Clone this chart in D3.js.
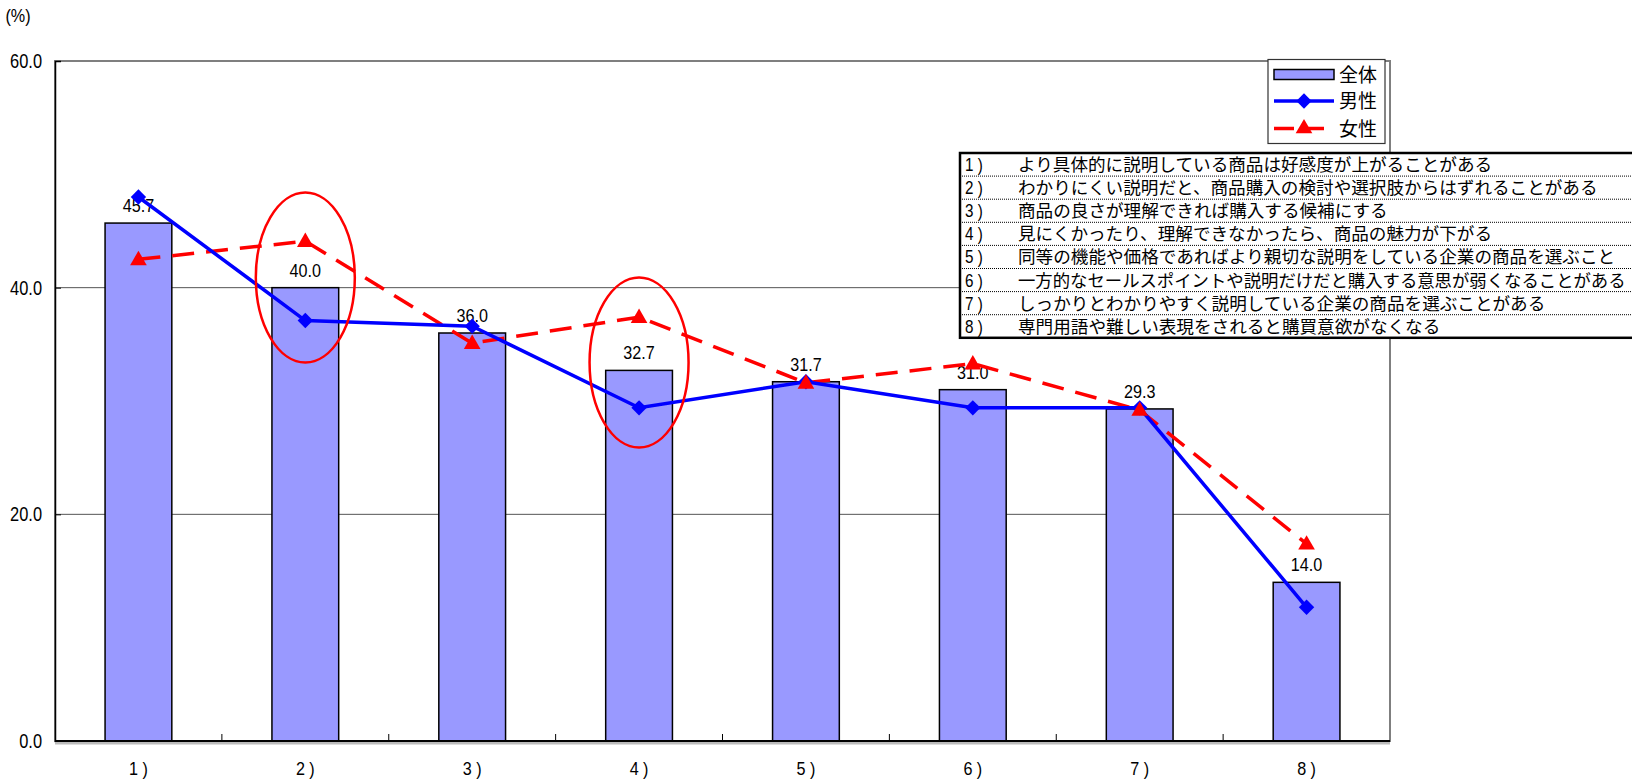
<!DOCTYPE html>
<html lang="ja">
<head>
<meta charset="utf-8">
<script src="https://cdn.jsdelivr.net/npm/d3@7"></script>
<style>
  html, body { margin: 0; padding: 0; background: #fff; }
  svg { display: block; }
  .num { font-family: "Liberation Sans", Arial, sans-serif; }
  .jp { font-family: "Noto Sans CJK JP", "Noto Sans CJK SC", sans-serif; }
</style>
</head>
<body>
<svg id="chart" width="1632" height="779"></svg>
<script>
// Categories (x axis) and their descriptions
const categories = ["1)", "2)", "3)", "4)", "5)", "6)", "7)", "8)"];
const descriptions = [
  "より具体的に説明している商品は好感度が上がることがある",
  "わかりにくい説明だと、商品購入の検討や選択肢からはずれることがある",
  "商品の良さが理解できれば購入する候補にする",
  "見にくかったり、理解できなかったら、商品の魅力が下がる",
  "同等の機能や価格であればより親切な説明をしている企業の商品を選ぶこと",
  "一方的なセールスポイントや説明だけだと購入する意思が弱くなることがある",
  "しっかりとわかりやすく説明している企業の商品を選ぶことがある",
  "専門用語や難しい表現をされると購買意欲がなくなる"
];

// Series values (%)
const totalValues  = [45.7, 40.0, 36.0, 32.7, 31.7, 31.0, 29.3, 14.0];
const maleValues   = [48.0, 37.1, 36.6, 29.4, 31.7, 29.4, 29.4, 11.8];
const femaleValues = [42.5, 44.1, 35.1, 37.4, 31.6, 33.3, 29.2, 17.4];

// Series names
const seriesNames = ["全体", "男性", "女性"];

// Y axis ticks
const yTicks = [0, 20, 40, 60];

// Highlighted categories (circled)
const highlighted = ["2)", "4)"];

const svg = d3.select("#chart");

const plot = { left: 55, right: 1390, top: 61, bottom: 741 };

const x = d3.scaleBand()
  .domain(categories)
  .range([plot.left, plot.right])
  .paddingInner(0.6)
  .paddingOuter(0.3);

const y = d3.scaleLinear()
  .domain([0, 60])
  .range([plot.bottom, plot.top]);

const cx = d => x(d) + x.bandwidth() / 2;

// Squeeze text horizontally to get a condensed face
function condense(sel, factor) {
  sel.each(function () {
    const w = this.getComputedTextLength();
    d3.select(this)
      .attr("textLength", w * factor)
      .attr("lengthAdjust", "spacingAndGlyphs");
  });
}

// Gridlines
svg.append("g")
  .selectAll("line")
  .data(yTicks.filter(t => t > 0 && t < 60))
  .join("line")
  .attr("x1", plot.left).attr("x2", plot.right)
  .attr("y1", d => y(d)).attr("y2", d => y(d))
  .attr("stroke", "#555").attr("stroke-width", 1);

// Plot frame (top/right in grey)
svg.append("rect")
  .attr("x", plot.left).attr("y", plot.top)
  .attr("width", plot.right - plot.left).attr("height", plot.bottom - plot.top)
  .attr("fill", "none").attr("stroke", "#7f7f7f").attr("stroke-width", 2);

// Y axis
const yAxis = d3.axisLeft(y)
  .tickValues(yTicks)
  .tickFormat(d3.format(".1f"))
  .tickSize(-6)
  .tickPadding(13);

const yAxisG = svg.append("g")
  .attr("transform", `translate(${plot.left},0)`)
  .call(yAxis);
yAxisG.select(".domain").attr("stroke", "#000").attr("stroke-width", 1.5);
yAxisG.selectAll(".tick line").attr("stroke", "#000");
yAxisG.selectAll(".tick text")
  .attr("class", "num")
  .attr("font-size", 20)
  .attr("fill", "#000")
  .call(condense, 0.82);

// Unit label
svg.append("text")
  .attr("class", "num")
  .attr("x", 18).attr("y", 22)
  .attr("text-anchor", "middle")
  .attr("font-size", 19)
  .text("(%)")
  .call(condense, 0.85);

// Bars
svg.append("g")
  .selectAll("rect")
  .data(totalValues)
  .join("rect")
  .attr("x", (d, i) => x(categories[i]))
  .attr("y", d => y(d))
  .attr("width", x.bandwidth())
  .attr("height", d => y(0) - y(d))
  .attr("fill", "#9999ff")
  .attr("stroke", "#000")
  .attr("stroke-width", 1.5);

// X axis
const xAxisG = svg.append("g")
  .attr("transform", `translate(0,${plot.bottom})`);
xAxisG.append("line")
  .attr("x1", plot.left).attr("x2", plot.right)
  .attr("y1", 2).attr("y2", 2)
  .attr("stroke", "#bbb").attr("stroke-width", 3);
xAxisG.append("line")
  .attr("x1", plot.left).attr("x2", plot.right)
  .attr("stroke", "#000").attr("stroke-width", 2);
// tick marks on category boundaries
xAxisG.selectAll("line.sep")
  .data(categories.slice(1))
  .join("line")
  .attr("class", "sep")
  .attr("x1", d => x(d) - x.step() * x.paddingInner() / 2)
  .attr("x2", d => x(d) - x.step() * x.paddingInner() / 2)
  .attr("y1", 0).attr("y2", -7)
  .attr("stroke", "#000").attr("stroke-width", 1);
xAxisG.selectAll("text")
  .data(categories)
  .join("text")
  .attr("class", "num")
  .attr("x", d => cx(d))
  .attr("y", 34)
  .attr("text-anchor", "middle")
  .attr("font-size", 19)
  .text(d => d.replace(")", " )"))
  .call(condense, 0.85);

// Value labels above bars
svg.append("g")
  .selectAll("text")
  .data(totalValues)
  .join("text")
  .attr("class", "num")
  .attr("x", (d, i) => cx(categories[i]))
  .attr("y", d => y(d) - 11)
  .attr("text-anchor", "middle")
  .attr("font-size", 19)
  .attr("fill", "#000")
  .text(d => d.toFixed(1))
  .call(condense, 0.85);

// Lines
const line = d3.line()
  .x((d, i) => cx(categories[i]))
  .y(d => y(d));

svg.append("path")
  .datum(femaleValues)
  .attr("d", line)
  .attr("fill", "none")
  .attr("stroke", "#ff0000")
  .attr("stroke-width", 3.5)
  .attr("stroke-dasharray", "22,12");

svg.append("path")
  .datum(maleValues)
  .attr("d", line)
  .attr("fill", "none")
  .attr("stroke", "#0000ff")
  .attr("stroke-width", 3.5);

const diamond = d3.symbol().type(d3.symbolDiamond2).size(150);
const triangle = d3.symbol().type(d3.symbolTriangle).size(120);

svg.append("g")
  .selectAll("path")
  .data(maleValues)
  .join("path")
  .attr("d", diamond)
  .attr("transform", (d, i) => `translate(${cx(categories[i])},${y(d)})`)
  .attr("fill", "#0000ff");

svg.append("g")
  .selectAll("path")
  .data(femaleValues)
  .join("path")
  .attr("d", triangle)
  .attr("transform", (d, i) => `translate(${cx(categories[i])},${y(d) + 1})`)
  .attr("fill", "#ff0000");

// Highlight ellipses around selected categories
const ellipseCentre = { "2)": 40.9, "4)": 33.4 };
svg.append("g")
  .selectAll("ellipse")
  .data(highlighted)
  .join("ellipse")
  .attr("cx", d => cx(d))
  .attr("cy", d => y(ellipseCentre[d]))
  .attr("rx", 49.5)
  .attr("ry", 85)
  .attr("fill", "none")
  .attr("stroke", "#ff0000")
  .attr("stroke-width", 2.5);

// Description table
const notes = svg.append("g");
const noteBox = { x: 960, y: 153, w: 700, rowH: 23.1 };
notes.append("rect")
  .attr("x", noteBox.x).attr("y", noteBox.y)
  .attr("width", noteBox.w).attr("height", noteBox.rowH * descriptions.length)
  .attr("fill", "#fff").attr("stroke", "#000").attr("stroke-width", 2.5);
notes.selectAll("line.row")
  .data(descriptions.slice(1))
  .join("line")
  .attr("class", "row")
  .attr("x1", noteBox.x).attr("x2", noteBox.x + noteBox.w)
  .attr("y1", (d, i) => noteBox.y + noteBox.rowH * (i + 1))
  .attr("y2", (d, i) => noteBox.y + noteBox.rowH * (i + 1))
  .attr("stroke", "#000").attr("stroke-width", 1)
  .attr("stroke-dasharray", "1,1");
notes.selectAll("text.no")
  .data(categories)
  .join("text")
  .attr("class", "num no")
  .attr("x", noteBox.x + 5)
  .attr("y", (d, i) => noteBox.y + noteBox.rowH * i + 18)
  .attr("font-size", 19)
  .text(d => d.replace(")", " )"))
  .call(condense, 0.8);
const descX = 1018;
const descMaxW = 1626 - descX;
notes.selectAll("text.desc")
  .data(descriptions)
  .join("text")
  .attr("class", "jp desc")
  .attr("x", descX)
  .attr("y", (d, i) => noteBox.y + noteBox.rowH * i + 18)
  .attr("font-size", 17.6)
  .text(d => d)
  .each(function () {
    // shrink long rows so they stay inside the page width
    const w = this.getComputedTextLength();
    if (w > descMaxW) {
      d3.select(this).attr("font-size", 17.6 * descMaxW / w);
    }
  });

// Legend
const legend = svg.append("g");
legend.append("rect")
  .attr("x", 1268).attr("y", 59.5)
  .attr("width", 117).attr("height", 84)
  .attr("fill", "#fff").attr("stroke", "#333").attr("stroke-width", 1.2);
const legY = [74.5, 101, 128.5];
legend.append("rect")
  .attr("x", 1274).attr("y", legY[0] - 5)
  .attr("width", 60).attr("height", 10)
  .attr("fill", "#9999ff").attr("stroke", "#000").attr("stroke-width", 1.5);
legend.append("line")
  .attr("x1", 1274).attr("x2", 1334).attr("y1", legY[1]).attr("y2", legY[1])
  .attr("stroke", "#0000ff").attr("stroke-width", 3.5);
legend.append("path")
  .attr("d", diamond)
  .attr("transform", `translate(1304,${legY[1]})`)
  .attr("fill", "#0000ff");
legend.append("line")
  .attr("x1", 1274).attr("x2", 1334).attr("y1", legY[2]).attr("y2", legY[2])
  .attr("stroke", "#ff0000").attr("stroke-width", 3.5)
  .attr("stroke-dasharray", "20,10");
legend.append("path")
  .attr("d", triangle)
  .attr("transform", `translate(1304,${legY[2]})`)
  .attr("fill", "#ff0000");
legend.selectAll("text")
  .data(seriesNames)
  .join("text")
  .attr("class", "jp")
  .attr("x", 1339)
  .attr("y", (d, i) => legY[i] + 7)
  .attr("font-size", 19)
  .text(d => d);
</script>
</body>
</html>
